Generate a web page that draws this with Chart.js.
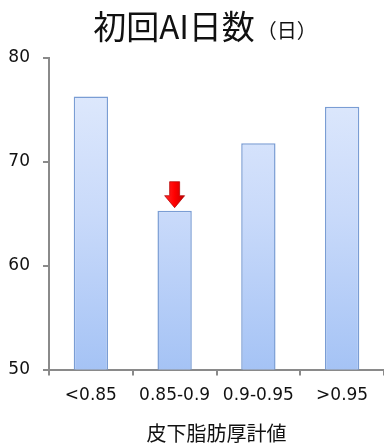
<!DOCTYPE html>
<html>
<head>
<meta charset="utf-8">
<script src="https://cdn.jsdelivr.net/npm/chart.js@4/dist/chart.umd.min.js"></script>
<style>
  html, body { margin: 0; padding: 0; background: #fff; }
  #wrap { width: 384px; height: 446px; position: relative; }
</style>
</head>
<body>
<div id="wrap"><canvas id="c"></canvas></div>
<script>
// Groups by subcutaneous fat thickness and mean days to first AI
const categories = ['<0.85', '0.85-0.9', '0.9-0.95', '>0.95'];
const firstAiDays = [76.3, 65.3, 71.8, 75.3];
const yTicks = [50, 60, 70, 80];
const highlightIndex = 1;

const titleMain = '初回AI日数';
const titleUnit = '（日）';
const xTitle = '皮下脂肪厚計値';

const latinFont = '"DejaVu Sans", "Noto Sans CJK JP", sans-serif';
const cjkFont = '"Noto Sans CJK JP", "DejaVu Sans", sans-serif';

function barGradient(ctx) {
  const area = ctx.chart.chartArea;
  if (!area) return '#c5d7f7';
  const g = ctx.chart.ctx.createLinearGradient(0, area.top, 0, area.bottom);
  g.addColorStop(0, '#e3ecfd');
  g.addColorStop(0.5, '#c9dafa');
  g.addColorStop(1, '#a5c3f5');
  return g;
}

// Title with a smaller unit suffix
const titlePlugin = {
  id: 'mixedTitle',
  afterDraw(chart) {
    const c = chart.ctx;
    c.save();
    c.fillStyle = '#111';
    c.textBaseline = 'alphabetic';
    c.font = '33px ' + cjkFont;
    const w1 = c.measureText(titleMain).width;
    c.font = '20px ' + cjkFont;
    const w2 = c.measureText(titleUnit).width;
    const x0 = 204 - (w1 + w2) / 2;
    c.font = '33px ' + cjkFont;
    c.fillText(titleMain, x0, 39);
    c.font = '20px ' + cjkFont;
    c.fillText(titleUnit, x0 + w1 + 2, 38);
    c.restore();
  }
};

// Red arrow pointing down at the highlighted bar
const arrowPlugin = {
  id: 'arrow',
  afterDatasetsDraw(chart) {
    const meta = chart.getDatasetMeta(0);
    const bar = meta.data[highlightIndex];
    if (!bar) return;
    const c = chart.ctx;
    const x = bar.x;
    const tip = bar.y - 3;
    const g = c.createLinearGradient(x - 10, 0, x + 10, 0);
    g.addColorStop(0, '#ff2a2a');
    g.addColorStop(0.5, '#ff0000');
    g.addColorStop(1, '#c00000');
    c.save();
    c.beginPath();
    c.moveTo(x - 5, tip - 26);
    c.lineTo(x + 5, tip - 26);
    c.lineTo(x + 5, tip - 12);
    c.lineTo(x + 10, tip - 12);
    c.lineTo(x, tip);
    c.lineTo(x - 10, tip - 12);
    c.lineTo(x - 5, tip - 12);
    c.closePath();
    c.fillStyle = g;
    c.fill();
    c.strokeStyle = '#b00000';
    c.lineWidth = 0.7;
    c.stroke();
    c.restore();
  }
};

new Chart(document.getElementById('c'), {
  type: 'bar',
  data: {
    labels: categories,
    datasets: [{
      data: firstAiDays,
      backgroundColor: barGradient,
      borderColor: '#7a9dd4',
      borderWidth: 1.5,
      borderSkipped: 'bottom',
      barPercentage: 0.41,
      categoryPercentage: 1.0
    }]
  },
  options: {
    responsive: true,
    maintainAspectRatio: false,
    animation: false,
    layout: { padding: { top: 58, right: 0, left: 0, bottom: 1 } },
    plugins: {
      legend: { display: false },
      title: { display: false },
      tooltip: { enabled: false }
    },
    scales: {
      x: {
        grid: {
          display: true,
          offset: true,
          drawOnChartArea: false,
          drawTicks: true,
          tickLength: 6,
          color: '#8a8a8a',
          lineWidth: 2
        },
        border: { display: true, color: '#8a8a8a', width: 2 },
        ticks: {
          color: '#111',
          font: { family: latinFont, size: 17 },
          padding: 10,
          maxRotation: 0,
          autoSkip: false
        },
        title: {
          display: true,
          text: xTitle,
          color: '#111',
          font: { family: cjkFont, size: 20 },
          padding: { top: 5, bottom: 0 }
        }
      },
      y: {
        min: yTicks[0],
        max: yTicks[yTicks.length - 1],
        afterBuildTicks(axis) { axis.ticks = yTicks.map(v => ({ value: v })); },
        afterFit(axis) { axis.width = 49; },
        grid: {
          display: true,
          drawOnChartArea: false,
          drawTicks: true,
          tickLength: 6,
          color: '#8a8a8a',
          lineWidth: 2
        },
        border: { display: true, color: '#8a8a8a', width: 2 },
        ticks: {
          color: '#111',
          font: { family: latinFont, size: 17 },
          padding: 13
        }
      }
    }
  },
  plugins: [titlePlugin, arrowPlugin]
});
</script>
</body>
</html>
